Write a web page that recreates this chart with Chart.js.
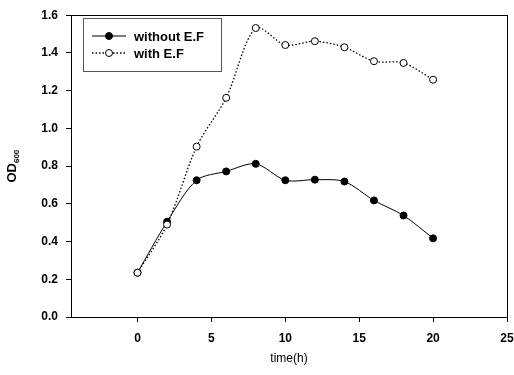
<!DOCTYPE html>
<html>
<head>
<meta charset="utf-8">
<script src="https://cdn.jsdelivr.net/npm/chart.js@4"></script>
<style>
  html, body { margin: 0; padding: 0; background: #fff; }
  #wrap { width: 514px; height: 375px; }
</style>
</head>
<body>
<div id="wrap"><canvas id="growthChart" width="514" height="375"></canvas></div>
<script>
// ----------------------------------------------------------------------------
// Dades (llegides del gràfic)
// ----------------------------------------------------------------------------
const TIMES = [0, 2, 4, 6, 8, 10, 12, 14, 16, 18, 20];
const WITHOUT_EF = [0.235, 0.505, 0.725, 0.772, 0.812, 0.725, 0.728, 0.718, 0.618, 0.538, 0.417];
const WITH_EF = [0.235, 0.49, 0.903, 1.162, 1.532, 1.442, 1.462, 1.43, 1.356, 1.347, 1.258];
const SERIES_LABELS = ['without E.F', 'with E.F'];
const X_TICKS = [0, 5, 10, 15, 20, 25];
const Y_TICKS = [0, 0.2, 0.4, 0.6, 0.8, 1.0, 1.2, 1.4, 1.6];

const FONT = 'Arial, "Liberation Sans", sans-serif';

// Marc al voltant de l'àrea del gràfic + títol Y amb subíndex + llegenda amb requadre
const framePlugin = {
    id: 'frame',
    afterDraw(chart) {
        const { ctx, chartArea: a } = chart;
        ctx.save();
        ctx.strokeStyle = '#000';
        ctx.lineWidth = 1;
        ctx.strokeRect(Math.round(a.left) + 0.5, Math.round(a.top) + 0.5,
            Math.round(a.right - a.left), Math.round(a.bottom - a.top));

        // títol eix Y: OD600
        ctx.translate(16, (a.top + a.bottom) / 2);
        ctx.rotate(-Math.PI / 2);
        ctx.fillStyle = '#000';
        ctx.textBaseline = 'alphabetic';
        ctx.font = 'bold 13px ' + FONT;
        const wOD = ctx.measureText('OD').width;
        ctx.font = 'bold 8px ' + FONT;
        const wSub = ctx.measureText('600').width;
        const x0 = -(wOD + wSub) / 2;
        ctx.font = 'bold 13px ' + FONT;
        ctx.fillText('OD', x0, 0);
        ctx.font = 'bold 8px ' + FONT;
        ctx.fillText('600', x0 + wOD, 3);
        ctx.restore();

        // llegenda
        const box = { x: 83.5, y: 18.5, w: 138, h: 53 };
        ctx.save();
        ctx.strokeStyle = '#555';
        ctx.lineWidth = 1;
        ctx.strokeRect(box.x, box.y, box.w, box.h);
        chart.data.datasets.forEach((ds, i) => {
            const y = 36 + i * 17;
            ctx.strokeStyle = '#000';
            ctx.lineWidth = ds.borderWidth;
            ctx.setLineDash(ds.borderDash || []);
            ctx.beginPath();
            ctx.moveTo(92, y);
            ctx.lineTo(126, y);
            ctx.stroke();
            ctx.setLineDash([]);
            ctx.beginPath();
            ctx.arc(109, y, ds.pointRadius, 0, Math.PI * 2);
            ctx.fillStyle = ds.pointBackgroundColor;
            ctx.fill();
            ctx.lineWidth = 1;
            ctx.stroke();
            ctx.fillStyle = '#000';
            ctx.font = 'bold 13px ' + FONT;
            ctx.textBaseline = 'middle';
            ctx.fillText(ds.label, 134, y + 1);
        });
        ctx.restore();
    }
};

const ctx = document.getElementById('growthChart').getContext('2d');

new Chart(ctx, {
    type: 'line',
    data: {
        datasets: [
            {
                label: SERIES_LABELS[0],
                data: TIMES.map((t, i) => ({ x: t, y: WITHOUT_EF[i] })),
                order: 1,
                borderColor: '#000',
                borderWidth: 1,
                tension: 0.3,
                pointRadius: 3.5,
                pointBackgroundColor: '#000',
                pointBorderColor: '#000',
                pointBorderWidth: 1
            },
            {
                label: SERIES_LABELS[1],
                data: TIMES.map((t, i) => ({ x: t, y: WITH_EF[i] })),
                order: 0,
                borderColor: '#000',
                borderWidth: 1.3,
                borderDash: [1.5, 2],
                tension: 0.3,
                pointRadius: 3.5,
                pointBackgroundColor: '#fff',
                pointBorderColor: '#000',
                pointBorderWidth: 1
            }
        ]
    },
    options: {
        responsive: false,
        animation: false,
        layout: { padding: { top: 12, right: 0, left: 0, bottom: 9 } },
        plugins: {
            legend: { display: false },
            tooltip: { enabled: false }
        },
        scales: {
            x: {
                type: 'linear',
                min: -4.5,
                max: 25,
                afterBuildTicks: s => { s.ticks = X_TICKS.map(v => ({ value: v })); },
                afterFit: s => { s.height = 49; s.paddingRight = 7; s.paddingLeft = 0; },
                grid: { display: true, drawOnChartArea: false, drawTicks: true, tickLength: 5, color: '#000' },
                border: { display: true, color: '#000', width: 1 },
                ticks: {
                    color: '#000',
                    padding: 9,
                    maxRotation: 0,
                    font: { family: FONT, size: 12, weight: 'bold' }
                },
                title: {
                    display: true,
                    text: 'time(h)',
                    color: '#000',
                    padding: { top: 6, bottom: 0 },
                    font: { family: FONT, size: 12 }
                }
            },
            y: {
                min: 0,
                max: 1.6,
                afterBuildTicks: s => { s.ticks = Y_TICKS.map(v => ({ value: v })); },
                afterFit: s => { s.width = 71; },
                grid: { display: true, drawOnChartArea: false, drawTicks: true, tickLength: 5, color: '#000' },
                border: { display: true, color: '#000', width: 1 },
                ticks: {
                    color: '#000',
                    padding: 8,
                    callback: v => v.toFixed(1),
                    font: { family: FONT, size: 12, weight: 'bold' }
                }
            }
        }
    },
    plugins: [framePlugin]
});
</script>
</body>
</html>
